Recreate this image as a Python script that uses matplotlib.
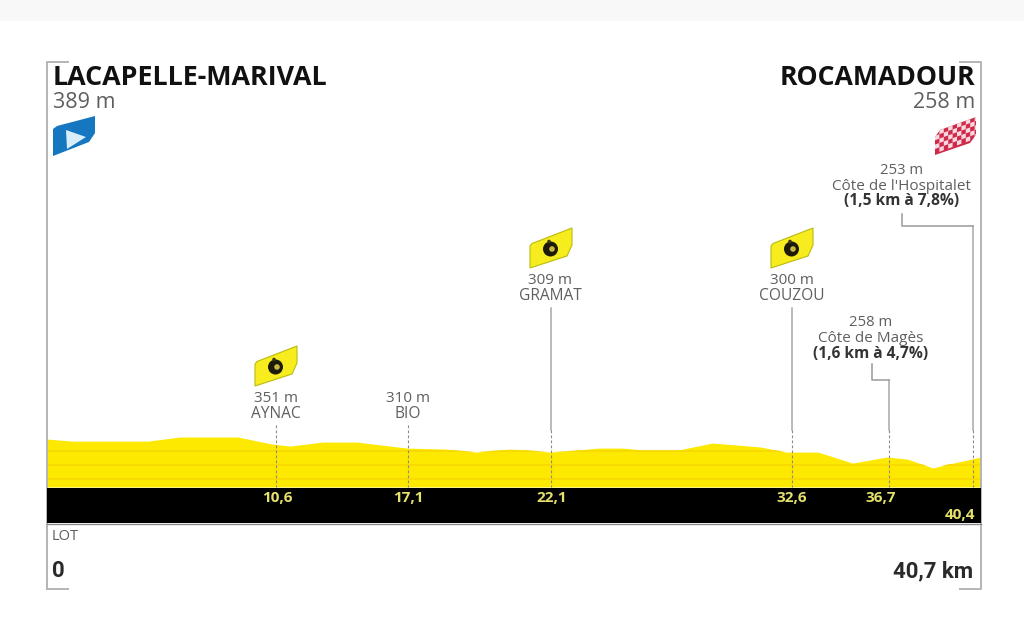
#!/usr/bin/env python3

import matplotlib
matplotlib.use("Agg")
import matplotlib.pyplot as plt
from matplotlib.patches import Polygon, Circle, Rectangle
from matplotlib.transforms import blended_transform_factory

W, H = 1024, 637

# profile
profile_km = [0, 1.1, 4.4, 5.8, 8.3, 9.8, 10.6, 12.0, 13.5, 15.7, 17.4, 18.7, 20.2, 20.9, 21.9,
              22.7, 24.0, 25.1, 26.0, 27.5, 29.0, 31.1, 32.2, 33.6, 35.1, 36.6, 37.5, 38.6, 39.3, 40.7]
profile_m = [389, 374, 374, 404, 404, 353, 338, 367, 367, 323, 316, 294, 316, 309, 294,
             302, 323, 323, 309, 309, 360, 331, 294, 294, 214, 258, 243, 178, 207, 258]

# markers: where the line stands on the km scale, and what is printed
marker_km = [9.98, 15.73, 21.98, 32.46, 36.7, 40.35]
marker_labels = ["10,6", "17,1", "22,1", "32,6", "36,7", "40,4"]
marker_label_dx = [1, 0, 0, 0, -9, -13]
marker_label_y = [498, 498, 498, 498, 498, 515]
marker_top = [425, 425, 308, 308, 380, 226]

town_names = ["AYNAC", "BIO", "GRAMAT", "COUZOU"]
town_alts = ["351 m", "310 m", "309 m", "300 m"]
town_y = [398, 398, 280, 280]
sprint_badges = [(0, 0), (275, -118), (516, -118)]

climb_names = ["Côte de Magès", "Côte de l'Hospitalet"]
climb_alts = ["258 m", "253 m"]
climb_stats = ["(1,6 km à 4,7%)", "(1,5 km à 7,8%)"]
climb_x = [871, 902]
climb_y = [323, 170]

GREY = "#5f5f5f"
FRAME = "#b4b4b8"
YELLOW = "#fde800"

fig = plt.figure(figsize=(W / 100, H / 100), dpi=100)
plt.rcParams["font.family"] = ["Open Sans", "DejaVu Sans"]

# whole figure in pixels for the furniture
px = fig.add_axes([0, 0, 1, 1])
px.set_xlim(0, W)
px.set_ylim(H, 0)
px.axis("off")

px.add_patch(Rectangle((0, 0), W, 21, fc="#f8f8f8", ec="none"))

# frame
px.plot([68, 47, 47], [62, 62, 589], color=FRAME, lw=1.4, zorder=1)
px.plot([47, 68], [589, 589], color=FRAME, lw=1.4, zorder=1)
px.plot([960, 981, 981, 960], [62, 62, 589, 589], color=FRAME, lw=1.4, zorder=1)

# profile axes sit on the black band
prof = fig.add_axes([47 / W, 1 - 487 / H, (981 - 47) / W, 287 / H], zorder=2)
prof.patch.set_alpha(0)
prof.set_xlim(0, 40.7)
prof.set_ylim(40, 40 + 287 * 7.28)
prof.axis("off")

fill = prof.fill_between(profile_km, 40, profile_m, color=YELLOW, lw=0)
for level in [100, 200, 300]:
    ln = prof.axhline(level, color="#f5d800", lw=1.2)
    ln.set_clip_path(fill.get_paths()[0], prof.transData)

px.add_patch(Rectangle((47, 488), 934, 35, fc="black", ec="none", zorder=3))
px.plot([47, 981], [523.5, 523.5], color="#8a8a8a", lw=1, zorder=3)

# x from km, y in pixels
km_px = blended_transform_factory(prof.transData, px.transData)

px.set_zorder(3)
for km, top, lab, dx, ly in zip(marker_km, marker_top, marker_labels, marker_label_dx, marker_label_y):
    # solid leader above the profile, dashed inside it
    if top < 425:
        px.plot([km, km], [top, 430], color="#a8a8ac", lw=1.1, transform=km_px)
    px.plot([km, km], [top if top >= 425 else 430, 487], color="#8c8c80", lw=0.8,
            ls=(0, (2.5, 2)), transform=km_px)
    x0 = px.transData.inverted().transform(km_px.transform((km, 0)))[0]
    px.text(x0 + dx, ly, lab, color="#e4e26a", fontsize=11, fontweight="bold",
            family=["Open Sans"], ha="center", va="center")

# climb elbows
px.plot([872, 872, 889], [364, 380, 380], color="#9a9a9e", lw=1.1)
px.plot([902, 902, 973], [214, 226, 226], color="#9a9a9e", lw=1.1)

# towns
for name, alt, y, x in zip(town_names, town_alts, town_y, [276, 408, 550, 792]):
    px.text(x, y, alt, color=GREY, fontsize=11, ha="center", va="center")
    px.text(x, y + 16, name, color=GREY, fontsize=11.2, ha="center", va="center")

# climbs
for name, alt, st, x, y in zip(climb_names, climb_alts, climb_stats, climb_x, climb_y):
    px.text(x, y, alt, color=GREY, fontsize=10.7, ha="center", va="center")
    px.text(x, y + 16, name, color=GREY, fontsize=11, ha="center", va="center")
    px.text(x, y + 31, st, color="#333333", fontsize=11.2, fontweight="bold", ha="center", va="center")

# sprint badges
badge_shape = [(255, 364), (257, 361.5), (297, 346), (297, 363), (292, 374), (255, 386)]
for dx, dy in sprint_badges:
    px.add_patch(Polygon([(a + dx, b + dy) for a, b in badge_shape], fc="#f7ec1e", ec="#b9bc10", lw=0.8))
    px.add_patch(Circle((275.5 + dx, 367 + dy), 7.5, fc="#1c1a08", ec="none"))
    px.add_patch(Circle((277 + dx, 367 + dy), 2.8, fc="#c8b840", ec="none"))
    px.add_patch(Circle((274 + dx, 359.5 + dy), 1.8, fc="#3a3820", ec="none"))

# start flag
px.add_patch(Polygon([(53, 129), (57, 126), (95, 116), (95, 133), (89, 142), (53, 156)], fc="#1477bf", ec="none"))
px.add_patch(Polygon([(66, 130), (86, 137), (67, 149)], fc="#d8eef8", ec="none"))

# finish flag
finish = Polygon([(935, 137), (940, 130), (976, 117), (976, 135), (970, 143), (935, 155)], fc="#cf2a4a", ec="none")
px.add_patch(finish)
for i in range(10):
    for j in range(6):
        if (i + j) % 2 == 0:
            x0 = 935 + i * 4.4
            y0 = 127 - i * 1.6 + j * 4.4
            cell = Polygon([(x0, y0), (x0 + 4.4, y0 - 1.6), (x0 + 4.4, y0 + 2.8), (x0, y0 + 4.4)],
                           fc="#f6d8de", ec="none")
            px.add_patch(cell)
            cell.set_clip_path(finish)

# heads
px.text(53, 78, "LACAPELLE-MARIVAL", color="#111111", fontsize=19.4, fontweight="bold", va="center", ha="left")
px.text(53, 102, "389 m", color=GREY, fontsize=15.5, va="center", ha="left")
px.text(975, 78, "ROCAMADOUR", color="#111111", fontsize=19.2, fontweight="bold", va="center", ha="right")
px.text(975, 102, "258 m", color=GREY, fontsize=15.5, va="center", ha="right")

# foot
px.text(52, 537, "LOT", color=GREY, fontsize=10.5, va="center", ha="left")
px.text(52, 571, "0", color="#2a2a2a", fontsize=16, fontweight="bold", family=["Roboto"], va="center", ha="left")
px.text(973, 571, "40,7 km", color="#2a2a2a", fontsize=16, fontweight="bold", family=["Roboto"], va="center", ha="right")

fig.savefig("out.png", dpi=100)
